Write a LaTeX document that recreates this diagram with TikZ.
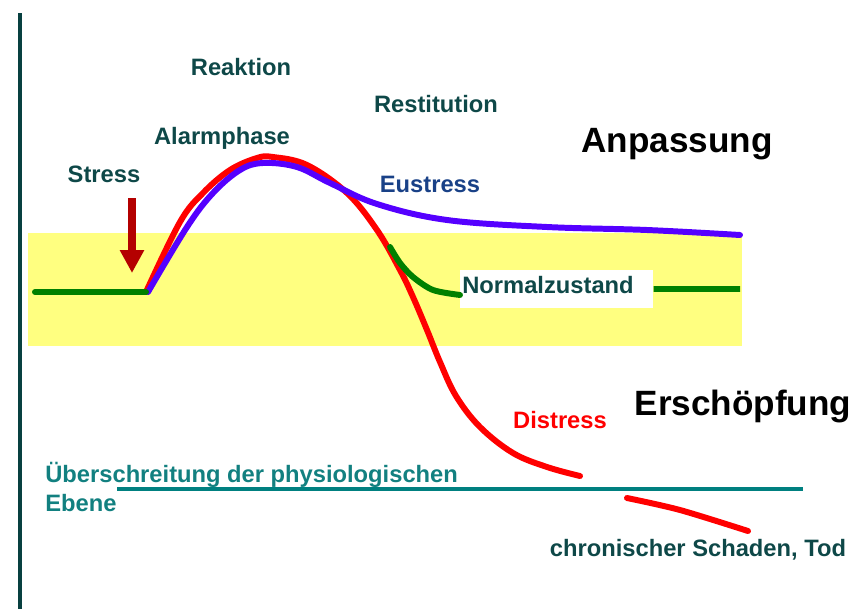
\documentclass[tikz,border=0pt]{standalone}
\usepackage{fontspec}
\setmainfont{Liberation Sans}
\usetikzlibrary{arrows.meta,positioning}

\definecolor{labelteal}{RGB}{14,72,72}
\definecolor{ueberteal}{RGB}{18,128,128}
\definecolor{axisteal}{RGB}{8,64,64}
\definecolor{lineteal}{RGB}{0,128,128}
\definecolor{eublue}{RGB}{25,65,135}
\definecolor{curveblue}{RGB}{85,0,255}
\definecolor{curvered}{RGB}{255,0,0}
\definecolor{curvegreen}{RGB}{0,128,0}
\definecolor{arrowred}{RGB}{180,0,0}
\definecolor{bandyellow}{RGB}{255,255,128}

\begin{document}
\begin{tikzpicture}[x=0.02cm,y=-0.02cm,
    lbl/.style={font=\bfseries\fontsize{13.5}{15}\selectfont, text=labelteal, inner sep=0pt, anchor=base},
    big/.style={font=\bfseries\fontsize{20}{22}\selectfont, text=black, inner sep=0pt, anchor=base},
    curve/.style={line width=3.4pt, line join=round, line cap=round}]
    \useasboundingbox (0,0) rectangle (856,609);

    % Band of the normal state
    \fill[bandyellow] (28,233) rectangle (742,346);

    % Axis and threshold line
    \draw[axisteal, line width=2.8pt] (20,13) -- (20,609);
    \draw[lineteal, line width=2.3pt] (117,489) -- (803,489);

    % Points on the curves
    \coordinate (rest) at (35,292);
    \coordinate (onset) at (146,292);
    \coordinate (stresstop) at (132,198);
    \coordinate (stresstip) at (132,273);

    % Curves
    \draw[curve, curvered] plot[smooth, tension=0.6] coordinates {(onset) (180,222) (203,193) (230,170) (257,158) (273,157) (307,165) (347,193) (377,230) (400,270) (413,297) (427,330) (440,362) (456,396) (480,427) (513,453) (547,467) (580,476)};
    \draw[curve, curvered] plot[smooth] coordinates {(627,498) (680,510) (748,531)};
    \draw[curve, curveblue] plot[smooth, tension=0.6] coordinates {(148,292) (187,227) (213,193) (240,170) (263,163) (297,167) (330,183) (377,204) (447,220) (547,227) (647,230) (740,235)};

    % Normal state
    \node[lbl, fill=white, anchor=base west, inner xsep=0.04cm, text width=3.78cm, align=left,
        text height=0.46cm, text depth=0.3cm] (norm) at (460,293) {Normalzustand};
    \draw[curve, curvegreen] (rest) -- (onset);
    \draw[curve, curvegreen] plot[smooth] coordinates {(390,247) (400,263) (413,277) (433,290) ([yshift=-3.4pt]norm.west)};
    \draw[curve, curvegreen, line cap=butt] (norm.east) -- (740,289);

    % Stress arrow
    \draw[arrowred, line width=4.5pt, -{Triangle[width=0.46cm,length=0.46cm]}] (stresstop) -- (stresstip);

    % Labels
    \node[lbl] (reak) at (241,75) {Reaktion};
    \node[lbl] (resti) at (436,112) {Restitution};
    \node[lbl] (alarm) at (222,144) {Alarmphase};
    \node[lbl] (stress) at (104,182) {Stress};
    \node[lbl, text=eublue] (eu) at (430,192) {Eustress};
    \node[big] (anp) at (677,152) {Anpassung};
    \node[big] (ersch) at (743,415) {Erschöpfung};
    \node[lbl, text=curvered] (dis) at (560,428) {Distress};
    \node[lbl, text=ueberteal, anchor=base west] (ueber) at (45,482) {Überschreitung der physiologischen};
    \node[lbl, text=ueberteal, anchor=base west] (ebene) at (45,511) {Ebene};
    \node[lbl] (tod) at (698,556) {chronischer Schaden, Tod};
\end{tikzpicture}
\end{document}
